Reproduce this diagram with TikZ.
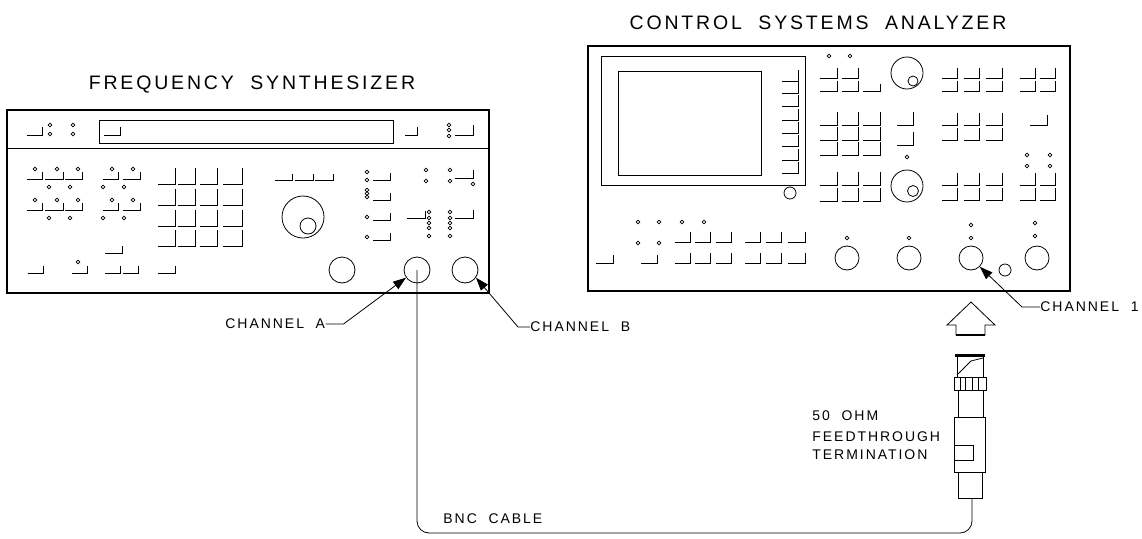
\documentclass[tikz,border=0pt]{standalone}
\usepackage{fontspec}
\usetikzlibrary{arrows.meta}
\newfontfamily\plotfont[LetterSpace=14,WordSpace=2]{Liberation Sans}
\newfontfamily\plothead[LetterSpace=14.5,WordSpace=2]{Liberation Sans}
% panel parts: key = (left, right, bottom, rise), lamp = (x, y)
\newcommand{\pkey}[4]{\draw (#1,#3) -- (#2,#3) -- (#2,#3-#4);}
\newcommand{\plamp}[2]{\draw (#1,#2) circle (1.9);}

\tikzset{
  devtitle/.style={font=\plothead\fontsize{19.5}{22}\selectfont, inner sep=0},
  lbl/.style={font=\plotfont\fontsize{14}{16}\selectfont, inner sep=0, anchor=west},
  jack/.style={circle, draw, inner sep=0, minimum size=26},
  knob/.style={circle, draw, inner sep=0, minimum size=#1},
  ptr/.style={-{Triangle[length=13pt,width=9pt]}},
}

\begin{document}
\begin{tikzpicture}[x=1pt,y=-1pt,line width=0.8pt]
\useasboundingbox (0,0) rectangle (1142,538);

% frequency synthesizer
\node[devtitle] (synth) at (252,85) {FREQUENCY SYNTHESIZER};
\draw[line width=2pt] (7,110) rectangle (489,293);
\draw (7,148) -- (489,148);
\draw (99,120) rectangle (393,143);
\pkey{27}{42}{135}{8} \pkey{104}{120}{135}{8} \pkey{405}{417}{135}{8} \pkey{455}{473}{135}{10}
\foreach \x/\y in {50/125,50/134,73/125,73/134,449/125,449/130,449/136} {\plamp{\x}{\y}}
\foreach \y in {169,200} {
  \foreach \x in {35,57,78,112,133} {\plamp{\x}{\y}}
  \foreach \x in {49,70,103,124} {\plamp{\x}{\y+18}}
  \foreach \a/\b in {27/42,45/63,65/82,103/118,123/140} {\pkey{\a}{\b}{\y+10}{7}}
}
\pkey{105}{122}{253}{7}
\foreach \a/\b in {28/43,72/87,105/120,123/138,158/175} {\pkey{\a}{\b}{273}{7}}
\plamp{78}{262}
\foreach \y in {184,205,226,246} {
  \foreach \a/\b in {158/175,178/195,200/217,223/242} {\pkey{\a}{\b}{\y}{16}}
}
\foreach \a/\b in {275/292,295/313,315/333} {\pkey{\a}{\b}{180}{6}}
\node[knob=42] (dial) at (303,217) {};
\node[knob=16] (dialcap) at (308,226) {};
\foreach \y in {172,180,190,193.5,197,217,237} {\plamp{367}{\y}}
\foreach \y in {180,200,220,240} {\pkey{373}{390}{\y}{7}}
\foreach \y in {170,181} {\plamp{426}{\y} \plamp{450}{\y}}
\pkey{455}{473}{178}{8} \plamp{473}{184}
\pkey{407}{425}{218}{7} \pkey{455}{473}{218}{8}
\foreach \y in {212,218,223,228,236} {\plamp{429}{\y} \plamp{450}{\y}}
\node[jack] (out0) at (342,270) {};
\node[jack] (chA) at (417,270) {};
\node[jack] (chB) at (465,270) {};

% control systems analyzer
\node[devtitle] (csa) at (818,23) {CONTROL SYSTEMS ANALYZER};
\draw[line width=2.6pt] (588,46) rectangle (1070,291);
\draw (601,56) rectangle (805,185);
\draw (618,71) rectangle (761,175);
\foreach \y in {81,93,106,120,133,146,160,173} {\pkey{782}{798}{\y}{11}}
\node[knob=12] (crt) at (790,193) {};
\plamp{829}{56} \plamp{850}{56}
\foreach \y in {78,91} {
  \foreach \a/\b in {820/837,842/858,942/957,964/979,986/1002,1020/1035,1040/1055} {\pkey{\a}{\b}{\y}{10}}
}
\pkey{863}{880}{91}{7}
\node[knob=32] (entry) at (907,73) {};
\node[knob=10] (entrycap) at (913,81) {};
\foreach \y in {125,140,155,185,201} {
  \foreach \a/\b in {820/837,842/858,863/880} {\pkey{\a}{\b}{\y}{13}}
}
\pkey{897}{913}{125}{13} \pkey{897}{913}{145}{13}
\foreach \y in {125,140} {
  \foreach \a/\b in {942/957,964/979,986/1002} {\pkey{\a}{\b}{\y}{12}}
}
\pkey{1030}{1047}{125}{10}
\foreach \x in {1027,1050} {\plamp{\x}{155} \plamp{\x}{166}}
\foreach \y in {185,200} {
  \foreach \a/\b in {942/957,964/979,986/1002,1020/1035,1040/1055} {\pkey{\a}{\b}{\y}{12}}
}
\plamp{907}{157}
\node[knob=32] (marker) at (907,186) {};
\node[knob=11] (markercap) at (913,191) {};
\foreach \x in {638,659,682,704} {\plamp{\x}{222}}
\plamp{638}{243} \plamp{659}{243}
\foreach \a/\b in {675/690,695/710,716/731,745/760,766/781,788/805} {\pkey{\a}{\b}{242}{10} \pkey{\a}{\b}{263}{10}}
\pkey{596}{613}{263}{8} \pkey{641}{657}{263}{8}
\foreach \x/\y in {847/238,909/238,971/225,971/238,1035/223,1035/236} {\plamp{\x}{\y}}
\node[knob=24] (src) at (847,258) {};
\node[knob=24] (ext) at (909,258) {};
\node[knob=24] (ch1) at (971,258) {};
\node[knob=24] (ch2) at (1037,258) {};
\node[knob=12] (gnd) at (1005,270) {};

% hollow arrow and feedthrough termination
\draw (971,302) -- (947,325) -- (956,325) -- (956,335) -- (985,335) -- (985,325) -- (995,325) -- cycle;
\draw[line width=1.6pt] (956,335) -- (985,335);
\draw[line width=3pt] (955,355) -- (985,355);
\draw (957,356) rectangle (983,377);
\draw (958,374) -- (971,361) -- (983,358);
\draw (954,377) rectangle (986,390);
\foreach \x in {960,965,972,978} {\draw (\x,377) -- (\x,390);}
\draw (958,390) rectangle (983,417);
\draw (954,417) rectangle (985,472);
\draw (954,445) rectangle (973,460);
\draw (958,472) rectangle (982,498);
\coordinate (plug) at (972,498);

% cable
\draw[rounded corners=12] (chA.center) -- (417,533) -- (972,533) -- (plug);

% labels
\node[lbl] (labA) at (225,324) {CHANNEL A};
\draw[ptr] (labA.east) -- ++(18,0) -- (chA.215);
\node[lbl] (labB) at (530,327) {CHANNEL B};
\draw[ptr] (labB.west) -- ++(-12,0) -- (chB.-35);
\node[lbl] (lab1) at (1040,307) {CHANNEL 1};
\draw[ptr] (lab1.west) -- ++(-18,0) -- (ch1.-45);
\node[lbl] (term1) at (812,416) {50 OHM};
\node[lbl] (term2) at (812,437) {FEEDTHROUGH};
\node[lbl] (term3) at (812,455) {TERMINATION};
\node[lbl] (cable) at (443,519) {BNC CABLE};
\end{tikzpicture}
\end{document}
